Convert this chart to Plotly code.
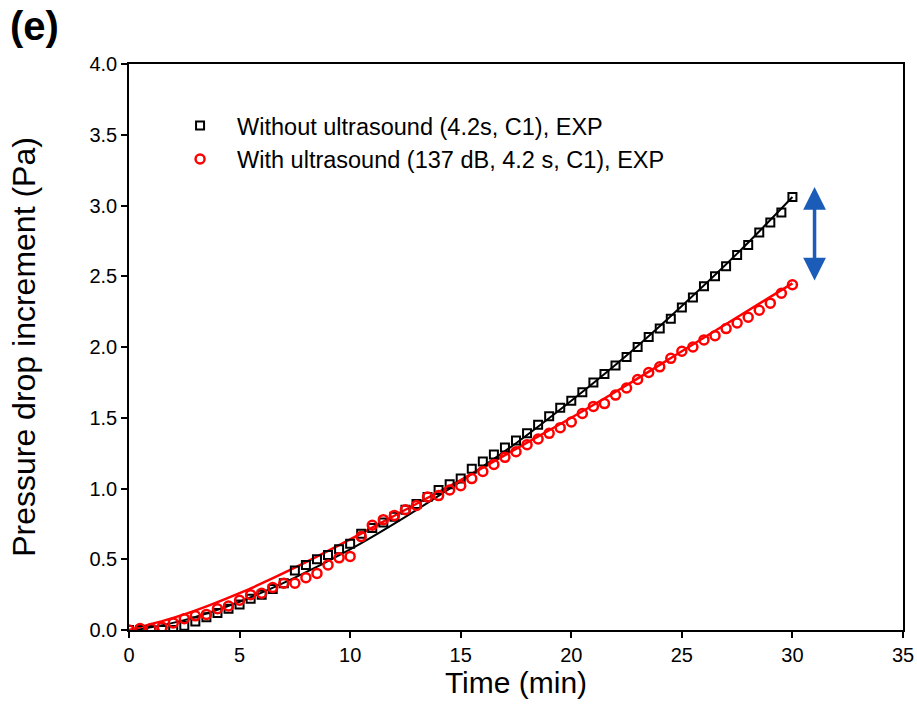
import plotly.graph_objects as go

# ---- data ----
time_exp = [i * 0.5 for i in range(61)]

p_without = [0.00, 0.00, 0.00, 0.00, 0.00, 0.03, 0.06, 0.09, 0.12, 0.15,
             0.18, 0.22, 0.25, 0.29, 0.33, 0.42, 0.46, 0.50, 0.53, 0.57,
             0.61, 0.68, 0.72, 0.76, 0.80, 0.85, 0.89, 0.94, 0.99, 1.03,
             1.07, 1.14, 1.19, 1.24, 1.29, 1.34, 1.39, 1.45, 1.51, 1.57,
             1.62, 1.68, 1.75, 1.81, 1.87, 1.93, 2.00, 2.07, 2.13, 2.20,
             2.28, 2.35, 2.43, 2.50, 2.57, 2.65, 2.72, 2.81, 2.88, 2.95,
             3.06]

p_with = [0.00, 0.01, 0.01, 0.02, 0.05, 0.08, 0.10, 0.11, 0.15, 0.17,
          0.21, 0.25, 0.26, 0.30, 0.33, 0.33, 0.37, 0.40, 0.46, 0.51,
          0.52, 0.66, 0.74, 0.78, 0.81, 0.85, 0.88, 0.94, 0.95, 0.99,
          1.02, 1.07, 1.12, 1.17, 1.22, 1.26, 1.31, 1.35, 1.39, 1.43,
          1.47, 1.53, 1.58, 1.60, 1.66, 1.71, 1.77, 1.82, 1.86, 1.92,
          1.97, 2.00, 2.05, 2.08, 2.13, 2.17, 2.21, 2.26, 2.31, 2.38,
          2.44]

time_fit = [0.3, 2.5, 5.0, 7.5, 10.0, 12.5, 15.0, 17.5, 20.0, 22.5, 25.0, 27.5, 30.0]
fit_without = [0.00, 0.07, 0.20, 0.37, 0.57, 0.80, 1.05, 1.32, 1.62, 1.94, 2.29, 2.66, 3.06]
time_fit_red = [0.0, 2.5, 5.0, 7.5, 10.0, 12.5, 15.0, 17.5, 20.0, 22.5, 25.0, 27.5, 30.0]
fit_with = [0.00, 0.11, 0.26, 0.44, 0.64, 0.85, 1.06, 1.28, 1.50, 1.73, 1.97, 2.21, 2.45]

legend_names = ["Without ultrasound (4.2s, C1), EXP",
                "With ultrasound (137 dB, 4.2 s, C1), EXP"]

arrow_time = 31.0
arrow_top = 3.13
arrow_bottom = 2.46

x_ticks = [0, 5, 10, 15, 20, 25, 30, 35]
y_ticks = [0.0, 0.5, 1.0, 1.5, 2.0, 2.5, 3.0, 3.5, 4.0]

FONT = "Liberation Sans, Arial, sans-serif"

fig = go.Figure()

fig.add_trace(go.Scatter(x=time_fit, y=fit_without, mode="lines",
                         line=dict(color="black", width=2, shape="spline"),
                         showlegend=False, hoverinfo="skip"))
fig.add_trace(go.Scatter(x=time_fit_red, y=fit_with, mode="lines",
                         line=dict(color="#ff0000", width=2.5, shape="spline"),
                         showlegend=False, hoverinfo="skip"))

fig.add_trace(go.Scatter(x=time_exp, y=p_without, mode="markers", name=legend_names[0],
                         marker=dict(symbol="square-open", size=8, color="black",
                                     line=dict(width=2, color="black"))))
fig.add_trace(go.Scatter(x=time_exp, y=p_with, mode="markers", name=legend_names[1],
                         marker=dict(symbol="circle-open", size=9, color="#ff0000",
                                     line=dict(width=2.5, color="#ff0000"))))

fig.add_annotation(x=arrow_time, y=arrow_top, ax=arrow_time, ay=arrow_bottom,
                   xref="x", yref="y", axref="x", ayref="y", text="",
                   showarrow=True, arrowside="end+start", arrowhead=2,
                   arrowsize=1.3, arrowwidth=3.5, arrowcolor="#1a5cb8")

fig.add_annotation(x=-121 / 774, y=1 + 62 / 566, xref="paper", yref="paper",
                   xanchor="left", yanchor="top",
                   text="<b>(e)</b>", showarrow=False,
                   font=dict(family=FONT, size=40, color="black"))

axis_common = dict(showgrid=False, zeroline=False, showline=True, linecolor="black",
                   linewidth=1.5, mirror=True, ticks="outside", ticklen=6,
                   tickwidth=1.5, tickcolor="black", automargin=False,
                   tickfont=dict(family=FONT, size=20, color="black"))

fig.update_xaxes(range=[0, 35], tickvals=x_ticks, **axis_common,
                 title=dict(text="Time (min)", font=dict(family=FONT, size=30, color="black"),
                            standoff=0))
fig.update_yaxes(range=[0, 4.0], tickvals=y_ticks, tickformat=".1f", **axis_common,
                 title=dict(text="Pressure drop increment (Pa)",
                            font=dict(family=FONT, size=32, color="black"), standoff=44))

fig.update_layout(
    width=917, height=722,
    margin=dict(l=129, r=14, t=64, b=92),
    paper_bgcolor="white", plot_bgcolor="white",
    font=dict(family=FONT, color="black"),
    legend=dict(x=0.044, y=0.93, xanchor="left", yanchor="top",
                bgcolor="rgba(0,0,0,0)", font=dict(family=FONT, size=23.5, color="black"),
                itemsizing="trace", itemwidth=64, tracegroupgap=0),
)

fig.write_html("out.html")
